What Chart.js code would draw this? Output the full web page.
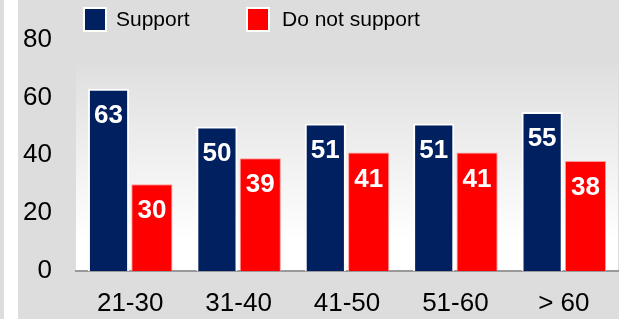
<!DOCTYPE html>
<html>
<head>
<meta charset="utf-8">
<script src="https://cdn.jsdelivr.net/npm/chart.js@4/dist/chart.umd.min.js"></script>
<style>
  html, body { margin: 0; padding: 0; background: #dddddd; }
  #wrap { position: relative; width: 619px; height: 319px; }
</style>
</head>
<body>
<div id="wrap"><canvas id="c" width="619" height="319"></canvas></div>
<script>
const categories = ["21-30", "31-40", "41-50", "51-60", "> 60"];
const supportValues = [63, 50, 51, 51, 55];
const notSupportValues = [30, 39, 41, 41, 38];
const seriesNames = ["Support", "Do not support"];
const yTicks = [0, 20, 40, 60, 80];

const FONT = "Arial, 'Liberation Sans', sans-serif";

const bgPlugin = {
  id: 'bg',
  beforeDraw(chart) {
    const ctx = chart.ctx;
    ctx.save();
    ctx.fillStyle = '#dddddd';
    ctx.fillRect(0, 0, chart.width, chart.height);
    ctx.fillStyle = '#ffffff';
    ctx.fillRect(4, 0, 14, chart.height);
    const a = chart.chartArea;
    const top = 65;
    const g = ctx.createLinearGradient(0, top, 0, a.bottom);
    g.addColorStop(0, '#dfdfdf');
    g.addColorStop(0.85, '#ffffff');
    g.addColorStop(1, '#ffffff');
    ctx.fillStyle = g;
    ctx.fillRect(a.left, top, a.right - a.left, a.bottom - top);
    ctx.restore();
  }
};

const labelPlugin = {
  id: 'vals',
  afterDatasetsDraw(chart) {
    const ctx = chart.ctx;
    ctx.save();
    ctx.font = "bold 26px " + FONT;
    ctx.fillStyle = '#ffffff';
    ctx.textAlign = 'center';
    ctx.textBaseline = 'middle';
    chart.data.datasets.forEach((ds, di) => {
      const meta = chart.getDatasetMeta(di);
      meta.data.forEach((bar, i) => {
        ctx.fillText(String(ds.data[i]), bar.x, bar.y + 27);
      });
    });
    ctx.restore();
  }
};

const legendPlugin = {
  id: 'customLegend',
  afterDraw(chart) {
    const ctx = chart.ctx;
    const xs = [[83, 116], [246, 282]];
    ctx.save();
    chart.data.datasets.forEach((ds, i) => {
      const [bx, tx] = xs[i];
      ctx.fillStyle = '#ffffff';
      ctx.fillRect(bx, 7, 24, 25);
      ctx.fillStyle = ds.backgroundColor;
      ctx.fillRect(bx + 2, 9, 20, 21);
      ctx.fillStyle = '#000000';
      ctx.font = "21px " + FONT;
      ctx.textAlign = 'left';
      ctx.textBaseline = 'middle';
      ctx.fillText(ds.label, tx, 20);
    });
    ctx.restore();
  }
};

new Chart(document.getElementById('c'), {
  type: 'bar',
  data: {
    labels: categories,
    datasets: [
      { label: seriesNames[0], data: supportValues, backgroundColor: '#002060', borderColor: '#ffffff', borderWidth: 2, categoryPercentage: 0.8, barPercentage: 0.95 },
      { label: seriesNames[1], data: notSupportValues, backgroundColor: '#ff0000', borderColor: '#ff9a9a', borderWidth: 1, categoryPercentage: 0.8, barPercentage: 0.95 }
    ]
  },
  options: {
    responsive: false,
    animation: false,
    devicePixelRatio: 1,
    layout: { padding: { top: 36, right: 1, left: 0, bottom: 0 } },
    plugins: { legend: { display: false }, tooltip: { enabled: false } },
    scales: {
      x: {
        grid: { display: false, drawTicks: false },
        border: { display: true, color: '#999999', width: 2 },
        ticks: { color: '#000000', font: { family: FONT, size: 26 }, padding: 17 },
        afterFit(s) { s.height = 48; }
      },
      y: {
        min: 0, max: 80,
        afterBuildTicks(s) { s.ticks = yTicks.map(v => ({ value: v })); },
        grid: { display: false, drawTicks: false },
        border: { display: false },
        ticks: { color: '#000000', font: { family: FONT, size: 26 }, padding: 24 },
        afterFit(s) { s.width = 76; }
      }
    }
  },
  plugins: [bgPlugin, labelPlugin, legendPlugin]
});
</script>
</body>
</html>
